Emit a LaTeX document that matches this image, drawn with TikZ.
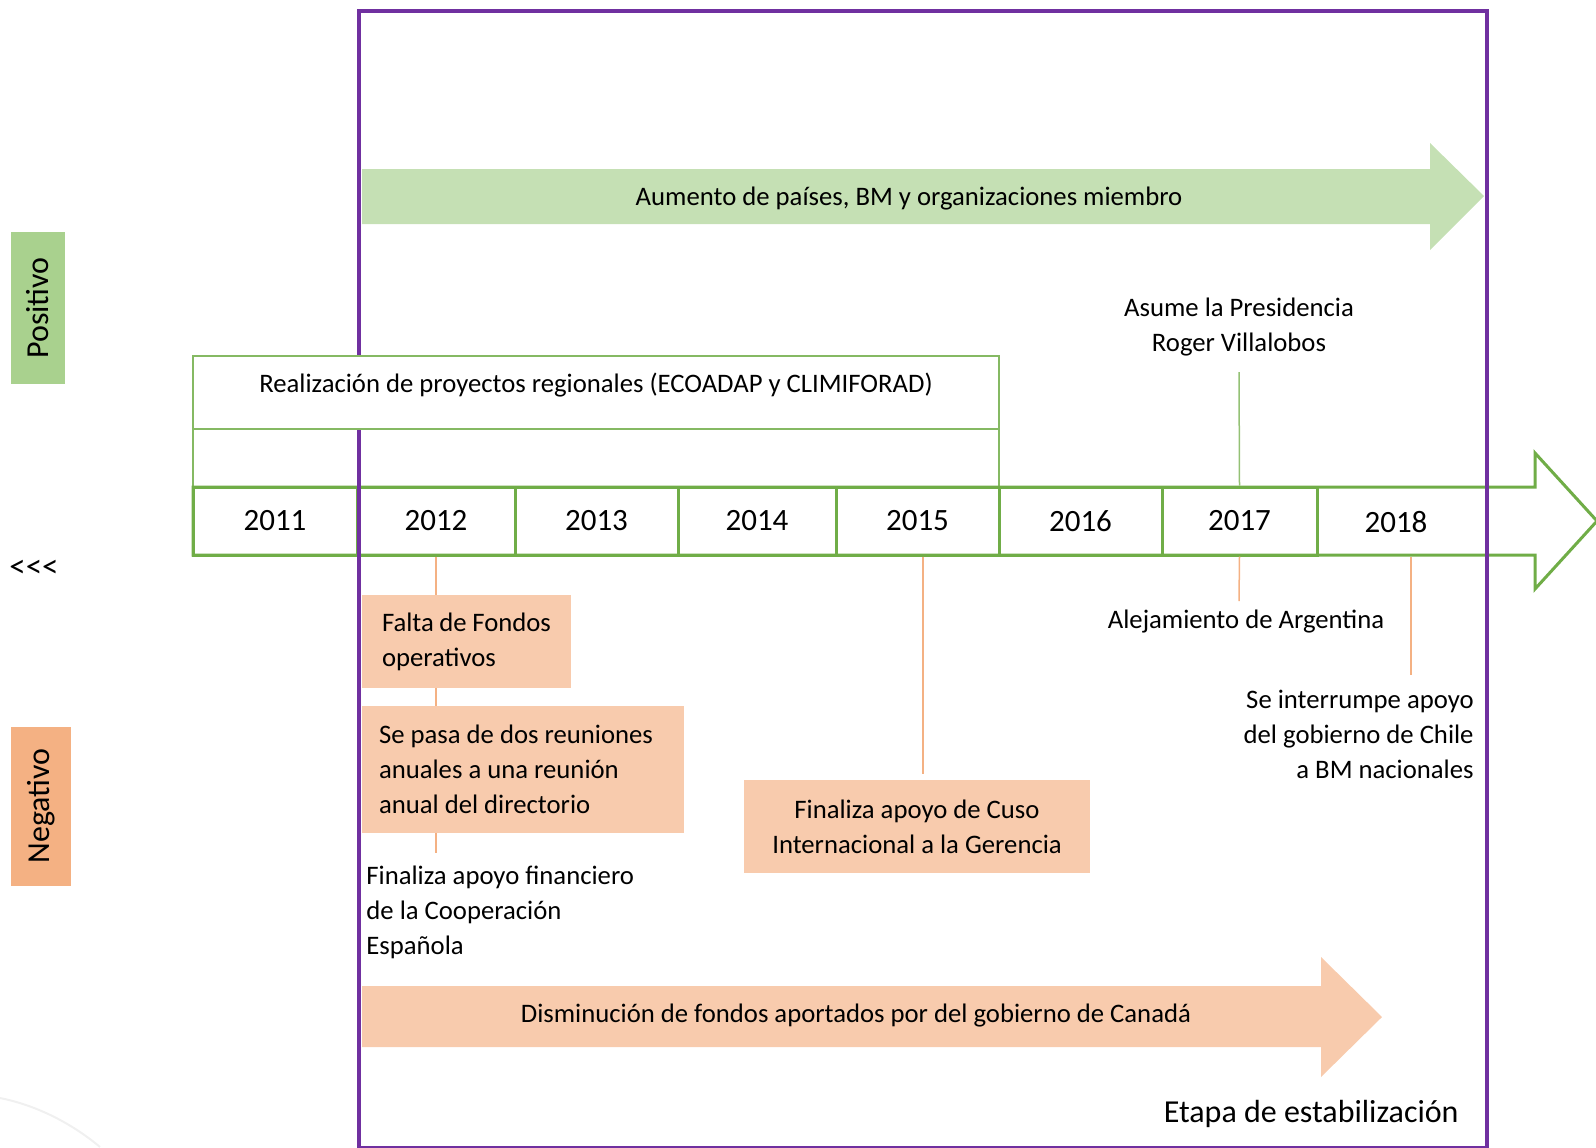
\documentclass[tikz,border=0pt]{standalone}
\usepackage{fontspec}
\setmainfont{Carlito}
\usepackage{xcolor}

\definecolor{purp}{HTML}{7030A0}
\definecolor{tgreen}{HTML}{70AD47}
\definecolor{lgreen}{HTML}{C5E0B4}
\definecolor{mgreen}{HTML}{A9D18E}
\definecolor{lorange}{HTML}{F8CBAD}
\definecolor{morange}{HTML}{F4B183}

\tikzset{
    txt/.style={font=\fontsize{13.35}{17.5}\selectfont, inner sep=0pt},
    yearbox/.style={draw=tgreen, line width=1.5pt, minimum height=34pt,
        inner sep=0pt, font=\fontsize{15.5}{18}\selectfont},
    proybox/.style={draw=tgreen!85, line width=0.75pt, minimum width=403pt},
    negbox/.style={txt, fill=lorange, minimum height=46.5pt},
    sidebox/.style={rotate=90, inner sep=0pt, font=\fontsize{16}{19}\selectfont},
    olink/.style={draw=morange, line width=0.75pt},
    glink/.style={draw=tgreen!75, line width=0.75pt},
}

\begin{document}
\begin{tikzpicture}[x=0.5pt, y=-0.5pt]
    \useasboundingbox (0, 0) rectangle (1596, 1147);
    \draw [gray!12, line width=1pt] (0, 1098) .. controls (40, 1106) and (75, 1126) .. (100, 1147);

    % side labels
    \path (38, 308) node [sidebox, fill=mgreen, minimum width=76pt, minimum height=27pt] (pos) {Positivo};
    \path (41, 806) node [sidebox, fill=morange, minimum width=79.5pt, minimum height=30pt] (neg) {Negativo};
    \path (34, 569) node [txt, font=\fontsize{16.5}{19}\selectfont] (back) {{<}{<}{<}};

    % positive arrow
    \fill [lgreen] (362, 169) -- (1430, 169) -- (1430, 143) -- (1484, 196) -- (1430, 250)
        -- (1430, 224) -- (362, 224) -- cycle;
    \path (909, 199) node [txt] (aum) {Aumento de países, BM y organizaciones miembro};

    % regional projects (lower part)
    \path (596, 458) node [proybox, minimum height=29pt] (proyb) {};

    % timeline
    \draw [tgreen, line width=1.5pt, fill=white] (193, 487) -- (1535, 487) -- (1535, 453)
        -- (1597, 521) -- (1535, 589) -- (1535, 555) -- (193, 555) -- cycle;
    \path (275, 521) node [yearbox, minimum width=82pt] (y2011) {2011};
    \path (436, 521) node [yearbox, minimum width=79pt] (y2012) {2012};
    \path (596.5, 521) node [yearbox, minimum width=81.5pt] (y2013) {2013};
    \path (757, 521) node [yearbox, minimum width=79pt] (y2014) {2014};
    \path (917.5, 521) node [yearbox, minimum width=81.5pt] (y2015) {2015};
    \path (1080.5, 521) node [yearbox, minimum width=81.5pt] (y2016) {2016};
    \path (1239.5, 521) node [yearbox, minimum width=77.5pt] (y2017) {2017};
    \path (1396, 522) node [yearbox, draw=none] (y2018) {2018};

    % events above
    \path (1239, 327) node [txt, align=center] (asume) {Asume la Presidencia\\Roger Villalobos};
    \path (1239, 372) coordinate (c17a);
    \draw [glink] (y2017.north) -- (c17a);

    % events below
    \path (466.5, 641.5) node [negbox, minimum width=104.5pt, inner xsep=10pt, text width=84.5pt,
        align=flush left] (falta) {Falta de Fondos\\operativos};
    \path (523, 769.5) node [negbox, minimum height=63.5pt, inner xsep=8.5pt, text width=144pt,
        align=flush left] (sepasa) {Se pasa de dos reuniones\\anuales a una reunión\\anual del directorio};
    \path (360, 912) node [txt, anchor=west, inner sep=3pt, align=left] (espa)
        {Finaliza apoyo financiero\\de la Cooperación\\Española};
    \path (436, 853) coordinate (c12);
    \draw [olink] (y2012.south) -- (falta.north -| y2012.south);
    \draw [olink] (falta.south -| y2012.south) -- (sepasa.north -| y2012.south);
    \draw [olink] (sepasa.south -| y2012.south) -- (c12);

    \path (917, 826.5) node [negbox, minimum width=173pt, align=center] (cuso)
        {Finaliza apoyo de Cuso\\Internacional a la Gerencia};
    \path (923, 774) coordinate (c15);
    \draw [olink] (y2015.south -| c15) -- (c15);

    \path (1239, 601) coordinate (c17b);
    \draw [olink] (y2017.south) -- (c17b);
    \path (1246, 622) node [txt] (arg) {Alejamiento de Argentina};

    \path (1411, 675) coordinate (c18);
    \draw [olink] (y2017.south -| c18) -- (c18);
    \path (1474, 734) node [txt, anchor=east, align=right] (chile)
        {Se interrumpe apoyo\\del gobierno de Chile\\a BM nacionales};

    % negative arrow
    \fill [lorange] (362, 986) -- (1321, 986) -- (1321, 957) -- (1382, 1017) -- (1321, 1077)
        -- (1321, 1047) -- (362, 1047) -- cycle;
    \path (856, 1016) node [txt] (can) {Disminución de fondos aportados por del gobierno de Canadá};

    % stage frame
    \draw [purp, line width=2pt] (359, 11) rectangle (1487, 1148);
    \path (1459, 1114) node [txt, anchor=east, font=\fontsize{16}{19}\selectfont] (etapa)
        {Etapa de estabilización};

    % regional projects (top part, over the frame)
    \path (596, 392.5) node [proybox, txt, fill=white, minimum height=36.5pt, text depth=10pt] (proy)
        {Realización de proyectos regionales (ECOADAP y CLIMIFORAD)};
\end{tikzpicture}
\end{document}
